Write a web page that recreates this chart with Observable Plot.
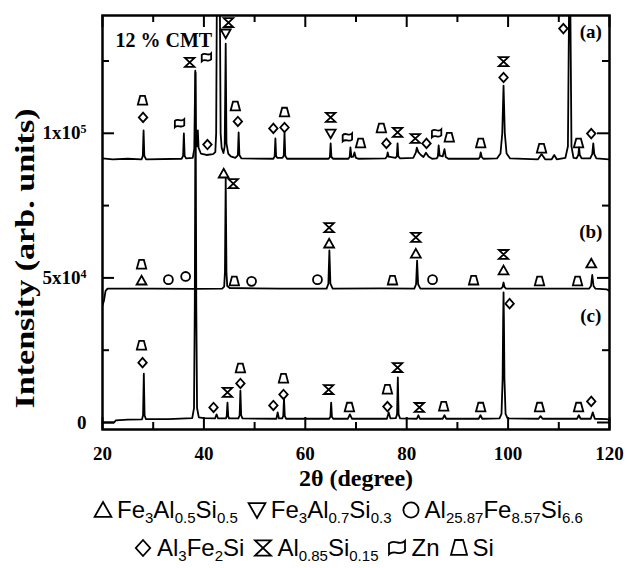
<!DOCTYPE html>
<html>
<head>
<meta charset="utf-8">
<script src="https://cdn.jsdelivr.net/npm/d3@7"></script>
<script src="https://cdn.jsdelivr.net/npm/@observablehq/plot@0.6"></script>
<style>
  html, body { margin: 0; padding: 0; background: #fff; }
  body { width: 627px; height: 568px; overflow: hidden; }
  #chart svg { display: block; }
  #legend { position: relative; width: 627px; height: 73px; font-family: "Liberation Sans", Arial, sans-serif; font-size: 24px; color: #000; }
  .row { position: absolute; white-space: nowrap; display: flex; align-items: center; height: 30px; }
  .item { display: inline-flex; align-items: center; margin-right: 9px; }
  .item svg { display: block; }
  .lbl { margin-left: 4px; line-height: 1; }
  .lbl sub { font-size: 15px; vertical-align: -0.32em; line-height: 0; }
</style>
</head>
<body>
<div id="chart"></div>
<div id="legend"></div>
<script>
// ---------- data ----------
const xTicksMajor = [20, 40, 60, 80, 100, 120];
const xTicksMinor = [30, 50, 70, 90, 110];
const yTicksMajor = [0, 50000, 100000];
const yTicksMinor = [25000, 75000, 125000];
const yTickLabels = ["0", "5x10^4", "1x10^5"];

// (a) 12 % CMT pattern, [2θ, intensity]
const traceA = [
  [20,91300],[22,91000],[25,91200],[27.7,91000],[27.95,92200],[28.1,101000],[28.25,92200],[28.6,91000],
  [35.6,91200],[35.9,92200],[36.05,100000],[36.2,92200],[36.5,91300],
  [37.8,91500],[38.1,94500],[38.3,121700],[38.45,96000],[38.62,95500],[38.8,101000],[38.95,95000],[39.4,93000],
  [40.5,92500],[41.8,92800],[42.25,93500],[42.42,100000],[42.55,145000],[43.15,145000],[43.3,100000],[43.5,95000],
  [43.85,93200],[44.1,95500],[44.3,131000],[44.45,96500],[44.8,93000],[45.3,92000],[46.2,91500],
  [46.5,92000],[46.7,92500],[46.85,100300],[47.0,92500],[47.4,91300],
  [53.7,91200],[53.95,92000],[54.1,98200],[54.25,92000],[54.5,91500],[55.5,91500],[55.75,92200],[55.9,100300],[56.05,92200],[56.4,91200],
  [64.6,91200],[64.85,91800],[65.0,96500],[65.15,91800],[65.5,91200],
  [68.5,91200],[68.75,91800],[68.9,95100],[69.1,91800],[69.45,91900],[69.7,93400],[69.95,91600],[70.4,91200],
  [75.8,91300],[76.1,92000],[76.25,93400],[76.45,91900],[77.8,91500],[78.05,92000],[78.2,96500],[78.35,92000],[78.7,91300],
  [81.3,91500],[81.8,93300],[82.0,95000],[82.3,93500],[82.8,92500],[83.3,91800],[83.8,93300],[84.3,92000],[85.0,91200],
  [85.9,91300],[86.15,92000],[86.3,95800],[86.5,92300],[87.1,92000],[87.45,94500],[87.7,91800],[88.2,91200],
  [94.2,91200],[94.45,91800],[94.6,93400],[94.8,91800],[95.1,91200],
  [97.8,91300],[98.5,93000],[98.85,100000],[99.1,116500],[99.35,100000],[99.7,93000],[100.4,91300],
  [105.9,91000],[106.6,92800],[107.3,91000],
  [108.6,91000],[109.1,92500],[109.6,91000],
  [111.3,91500],[111.8,95500],[112.05,150000],[112.25,150000],[112.5,95500],[112.9,91500],
  [113.5,91300],[113.85,92500],[114.0,95100],[114.15,92500],[114.5,91300],
  [116.2,91300],[116.6,92800],[116.8,96500],[117.0,92800],[117.4,91300],
  [120,91000]
];

// (b) pattern
const traceB = [
  [20,40500],[20.3,42200],[20.6,45500],[21.0,46300],[30,46300],[38,46200],
  [43.6,46300],[44.0,47000],[44.15,52000],[44.3,84400],[44.45,52000],[44.6,47200],[45.1,46500],
  [55,46300],[64.2,46300],[64.55,48000],[64.75,59500],[64.95,48000],[65.4,46300],
  [75,46400],[81.5,46300],[81.85,47800],[82.05,56000],[82.25,47800],[82.7,46300],
  [90,46300],[98.6,46300],[98.9,46800],[99.1,48400],[99.3,46800],[99.6,46300],
  [108,46300],[116.0,46300],[116.35,47200],[116.6,51000],[116.85,47200],[117.2,46300],
  [119.5,46000],[120,45500]
];

// (c) pattern
const traceC = [
  [20,0],[22.3,0],[22.6,700],[25,1000],[27.8,1100],[28.0,2500],[28.15,16900],[28.3,2500],[28.55,1200],
  [33,1200],[37.7,1500],[38.05,5000],[38.2,40000],[38.35,121000],[38.5,40000],[38.65,5000],[39.0,1800],[40,1500],
  [42.2,1400],[42.5,2800],[42.8,1400],
  [44.35,1400],[44.5,2200],[44.65,6900],[44.8,2200],[44.95,1400],
  [46.8,1400],[47.05,2500],[47.2,11000],[47.35,2500],[47.6,1400],
  [54.3,1300],[54.55,3500],[54.8,1400],[55.45,1400],[55.65,2300],[55.8,8300],[55.95,2300],[56.2,1300],
  [64.7,1300],[64.95,2000],[65.1,6900],[65.25,2000],[65.5,1300],
  [68.4,1300],[68.8,2800],[69.2,1300],
  [76.1,1300],[76.45,3500],[76.8,1400],[77.85,1500],[78.1,2800],[78.25,15600],[78.4,2800],[78.7,1400],
  [82.0,1300],[82.3,2500],[82.6,1300],
  [87.1,1300],[87.45,2500],[87.8,1300],
  [94.2,1300],[94.55,2500],[94.9,1300],
  [98.3,1400],[98.7,3000],[98.92,15000],[99.02,35000],[99.1,45000],[99.18,35000],[99.28,15000],[99.5,3000],[99.9,1400],
  [106.0,1300],[106.4,2200],[106.8,1300],
  [113.6,1300],[113.95,2500],[114.3,1300],
  [116.3,1300],[116.7,3500],[117.1,1300],
  [119.5,1200],[120,800]
];

// phase markers [2θ, intensity]
const markFe3Al05Si05 = [[27.7,49100],[43.9,86100],[64.7,61900],[81.8,58400],[99.1,52600],[116.4,55000]];
const markFe3Al07Si03 = [[44.3,134500],[65.0,99900]];
const markAl2587 = [[33.0,49400],[36.4,50500],[49.4,48800],[62.4,49400],[85.1,49400]];
const markAl3Fe2Si = [[28.0,105500],[40.7,96100],[46.7,104100],[53.7,101700],[55.9,102000],[76.0,96500],[83.9,96500],[99.1,119300],[110.9,136200],[116.4,99900],
  [27.9,20700],[41.9,5200],[47.2,13500],[53.7,5900],[55.7,9700],[76.2,5500],[100.3,41100],[116.4,7300]];
const markAl085Si015 = [[37.2,124500],[44.85,138300],[65.0,105500],[78.2,100300],[81.7,98200],[99.1,124800],
  [45.8,82600],[64.7,67400],[81.8,64000],[99.1,58100],
  [44.65,10400],[64.6,11400],[78.2,19000],[82.5,5200]];
const markZn = [[35.2,103400],[40.5,126200],[68.3,98500],[85.9,99900]];
const markSi = [[27.9,111300],[46.2,109300],[55.9,107200],[70.9,96500],[75.0,101700],[88.4,98500],[94.6,96500],[106.6,94700],[113.9,96500],
  [27.7,54600],[46.0,48800],[77.2,49100],[93.2,49100],[106.2,48800],[113.7,48800],
  [27.7,26600],[47.2,18700],[55.7,15200],[68.7,5200],[76.2,11400],[87.3,5500],[94.6,5200],[106.2,5200],[113.9,5200]];

const panelLabels = [
  {label: "(a)", x: 116.3, y: 135200},
  {label: "(b)", x: 116.3, y: 66000},
  {label: "(c)", x: 116.3, y: 37000}
];
const sampleLabel = "12 % CMT";
const xTitle = "2θ (degree)";
const yTitle = "Intensity (arb. units)";
const phaseNames = ["Fe3Al0.5Si0.5", "Fe3Al0.7Si0.3", "Al25.87Fe8.57Si6.6", "Al3Fe2Si", "Al0.85Si0.15", "Zn", "Si"];

// ---------- symbols ----------
const R = s => Math.sqrt(s / Math.PI);
const symTriUp = {draw(c, size) { const s = R(size); c.moveTo(0, -s); c.lineTo(s * 1.05, s * 0.85); c.lineTo(-s * 1.05, s * 0.85); c.closePath(); }};
const symTriDown = {draw(c, size) { const s = R(size); c.moveTo(0, s); c.lineTo(s * 1.05, -s * 0.85); c.lineTo(-s * 1.05, -s * 0.85); c.closePath(); }};
const symCircle = {draw(c, size) { const s = R(size) * 0.95; c.moveTo(s, 0); c.arc(0, 0, s, 0, 2 * Math.PI); }};
const symDiamond = {draw(c, size) { const s = R(size); c.moveTo(0, -s); c.lineTo(s * 0.9, 0); c.lineTo(0, s); c.lineTo(-s * 0.9, 0); c.closePath(); }};
const symHourglass = {draw(c, size) { const s = R(size); c.moveTo(-s, -s * 0.95); c.lineTo(s, -s * 0.95); c.lineTo(-s, s * 0.95); c.lineTo(s, s * 0.95); c.closePath(); }};
const symZn = {draw(c, size) { const s = R(size);
  c.moveTo(-s, -s * 0.55);
  c.bezierCurveTo(-s * 0.3, -s * 1.25, s * 0.3, -s * 0.15, s, -s * 0.9);
  c.lineTo(s, s * 0.4);
  c.bezierCurveTo(s * 0.3, s * 1.1, -s * 0.3, s * 0.1, -s, s * 0.8);
  c.closePath(); }};
const symSi = {draw(c, size) { const s = R(size); c.moveTo(-s * 0.5, -s); c.lineTo(s * 0.5, -s); c.lineTo(s, s * 0.85); c.lineTo(-s, s * 0.85); c.closePath(); }};
const phaseSymbols = [symTriUp, symTriDown, symCircle, symDiamond, symHourglass, symZn, symSi];
const phaseMarks = [markFe3Al05Si05, markFe3Al07Si03, markAl2587, markAl3Fe2Si, markAl085Si015, markZn, markSi];

// ---------- plot ----------
const W = 627, H = 495;
const mL = 102, mR = 18, mT = 15, mB = H - 429;
const fw = W - mL - mR, fh = H - mT - mB;
const X = d => d[0], Y = d => d[1];

const marks = [
  Plot.line(traceC, {x: X, y: Y, stroke: "#000", strokeWidth: 1.8, clip: true}),
  Plot.line(traceB, {x: X, y: Y, stroke: "#000", strokeWidth: 1.8, clip: true}),
  Plot.line(traceA, {x: X, y: Y, stroke: "#000", strokeWidth: 1.8, clip: true}),
  ...phaseMarks.map((m, i) => Plot.dot(m, {x: X, y: Y, symbol: phaseSymbols[i], r: 4.7, stroke: "#000", strokeWidth: 1.8, fill: "none"})),
  // inward ticks on all four sides
  Plot.ruleX(xTicksMajor, {x: d => d, insetTop: fh - 12, strokeWidth: 2}),
  Plot.ruleX(xTicksMinor, {x: d => d, insetTop: fh - 7, strokeWidth: 2}),
  Plot.ruleX(xTicksMajor, {x: d => d, insetBottom: fh - 12, strokeWidth: 2}),
  Plot.ruleX(xTicksMinor, {x: d => d, insetBottom: fh - 7, strokeWidth: 2}),
  Plot.ruleY(yTicksMajor, {y: d => d, insetRight: fw - 12, strokeWidth: 2}),
  Plot.ruleY(yTicksMinor, {y: d => d, insetRight: fw - 7, strokeWidth: 2}),
  Plot.ruleY(yTicksMajor, {y: d => d, insetLeft: fw - 12, strokeWidth: 2}),
  Plot.ruleY(yTicksMinor, {y: d => d, insetLeft: fw - 7, strokeWidth: 2}),
  Plot.axisX({ticks: xTicksMajor, tickSize: 0, tickPadding: 17, label: null, fontSize: 19, tickFormat: d => String(d)}),
  Plot.axisY({ticks: yTicksMajor, tickSize: 0, tickPadding: 16, label: null, fontSize: 19,
    tickFormat: d => yTickLabels[yTicksMajor.indexOf(d)]}),
  Plot.frame({stroke: "#000", strokeWidth: 2.5}),
  Plot.text([sampleLabel], {frameAnchor: "top-left", dx: 13, dy: 17, textAnchor: "start", lineAnchor: "top", fontSize: 20}),
  Plot.text(panelLabels, {x: "x", y: "y", text: "label", fontSize: 19}),
  Plot.text([xTitle], {frameAnchor: "bottom", dy: 49, fontSize: 24, lineAnchor: "middle"}),
  Plot.text([yTitle], {frameAnchor: "left", dx: -77, dy: 186, rotate: -90, fontSize: 27, lineAnchor: "middle", textAnchor: "start"})
];

const chart = Plot.plot({
  width: W, height: H,
  marginLeft: mL, marginRight: mR, marginTop: mT, marginBottom: mB,
  x: {domain: [20, 120]},
  y: {domain: [-2420, 140730]},
  style: {fontFamily: "'Liberation Serif', 'Times New Roman', serif", fontWeight: "bold", color: "#000", background: "#fff", overflow: "visible"},
  marks
});
document.getElementById("chart").appendChild(chart);

// superscripts on y tick labels
d3.select(chart).selectAll('g[aria-label="y-axis tick label"] text').each(function() {
  const t = this.textContent;
  if (t.includes("^")) {
    const [b, e] = t.split("^");
    this.textContent = b;
    d3.select(this).append("tspan").attr("dy", "-0.5em").attr("font-size", "12px").text(e);
  }
});
// stretched y title as in reference
d3.select(chart).selectAll("text").filter(function() { return this.textContent === yTitle; })
  .attr("textLength", 300).attr("lengthAdjust", "spacingAndGlyphs");

// ---------- legend ----------
function iconSVG(sym) {
  const p = d3.path();
  sym.draw(p, Math.PI * 8 * 8);
  return `<svg width="20" height="20" viewBox="-10 -10 20 20"><path d="${p}" fill="none" stroke="#000" stroke-width="1.8"/></svg>`;
}
const subs = name => name.replace(/(\d+(?:\.\d+)?)/g, "<sub>$1</sub>");
const rows = [{left: 93, top: 0, idx: [0, 1, 2]}, {left: 133, top: 38, idx: [3, 4, 5, 6]}];
const legend = document.getElementById("legend");
rows.forEach(r => {
  const div = document.createElement("div");
  div.className = "row";
  div.style.left = r.left + "px";
  div.style.top = r.top + "px";
  div.innerHTML = r.idx.map(i => `<span class="item">${iconSVG(phaseSymbols[i])}<span class="lbl">${subs(phaseNames[i])}</span></span>`).join("");
  legend.appendChild(div);
});
</script>
</body>
</html>
